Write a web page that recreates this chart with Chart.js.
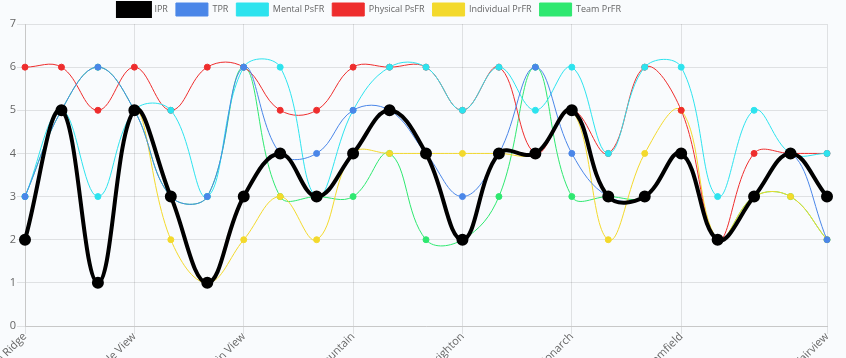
<!DOCTYPE html>
<html>
<head>
<meta charset="utf-8">
<script src="https://cdn.jsdelivr.net/npm/chart.js@4.4.1/dist/chart.umd.min.js"></script>
<style>
    body { margin: 0; background: #f9fbfd; overflow: hidden; }
    #wrap { position: absolute; left: 0; top: -5px; width: 846px; height: 401px; }
</style>
</head>
<body>
<div id="wrap"><canvas id="myChart"></canvas></div>
<script>
const schools = [
    'Aspen Ridge', 'Cedar Creek', 'Pine Hill', 'Eagle View', 'Oak Grove', 'Lakeside',
    'Mountain View', 'Riverside', 'Maple Park', 'Red Mountain', 'Westwood', 'Sunset Hills',
    'Brighton', 'Valley Forge', 'Kingsley', 'Monarch', 'Harbor Point', 'Willow Bend',
    'Bloomfield', 'Summit', 'Northgate', 'Granite Falls', 'Fairview'
];
// only these labels are visible on the x axis
const shownTicks = [0, 3, 6, 9, 12, 15, 18, 22];

const ipr        = [2, 5, 1, 5, 3, 1, 3, 4, 3, 4, 5, 4, 2, 4, 4, 5, 3, 3, 4, 2, 3, 4, 3];
const tpr        = [3, 5, 6, 5, 3, 3, 6, 4, 4, 5, 5, 4, 3, 4, 6, 4, 3, 3, 4, 2, 3, 4, 2];
const mentalPsfr = [3, 5, 3, 5, 5, 3, 6, 6, 3, 5, 6, 6, 5, 6, 5, 6, 4, 6, 6, 3, 5, 4, 4];
const physPsfr   = [6, 6, 5, 6, 5, 6, 6, 5, 5, 6, 6, 6, 5, 6, 4, 5, 4, 6, 5, 2, 4, 4, 4];
const indivPrfr  = [2, 5, 1, 5, 2, 1, 2, 3, 2, 4, 4, 4, 4, 4, 4, 5, 2, 4, 5, 2, 3, 3, 2];
const teamPrfr   = [3, 5, 6, 5, 3, 3, 6, 3, 3, 3, 4, 2, 2, 3, 6, 3, 3, 3, 4, 2, 3, 3, 2];

Chart.defaults.font.family = "'Open Sans', sans-serif";
Chart.defaults.color = '#666';

function makeSet(label, data, color, width, radius) {
    return {
        label: label,
        data: data,
        borderColor: color,
        backgroundColor: color,
        pointBackgroundColor: color,
        pointBorderColor: color,
        borderWidth: width,
        pointRadius: radius,
        tension: 0.4
    };
}

// moves the legend sideways, it is not centred over the canvas
const legendShift = {
    id: 'legendShift',
    afterLayout(chart) {
        chart.legend.left -= 44;
        chart.legend.right -= 44;
    }
};

const ctx = document.getElementById('myChart');

new Chart(ctx, {
    type: 'line',
    data: {
        labels: schools,
        datasets: [
            makeSet('IPR', ipr, '#000000', 4, 4),
            makeSet('TPR', tpr, '#4a86e8', 1, 3),
            makeSet('Mental PsFR', mentalPsfr, '#2de3ee', 1, 3),
            makeSet('Physical PsFR', physPsfr, '#ee2d2d', 1, 3),
            makeSet('Individual PrFR', indivPrfr, '#f3d92c', 1, 3),
            makeSet('Team PrFR', teamPrfr, '#2ee870', 1, 3)
        ]
    },
    options: {
        responsive: true,
        maintainAspectRatio: false,
        animation: false,
        layout: { padding: { left: 0, right: 19, top: 0, bottom: 0 } },
        plugins: {
            legend: {
                maxHeight: 29,
                labels: {
                    boxWidth: 32,
                    boxHeight: 13,
                    padding: 8,
                    font: { size: 9 }
                }
            },
            tooltip: { enabled: false }
        },
        scales: {
            x: {
                afterFit: scale => {
                    scale.height = 70;
                    scale.paddingLeft = 0;
                    scale.paddingRight = 0;
                },
                border: { color: '#c8c8c8' },
                grid: {
                    color: c => shownTicks.includes(c.index) ? 'rgba(0,0,0,0.1)' : 'transparent'
                },
                ticks: {
                    autoSkip: false,
                    minRotation: 45,
                    maxRotation: 45,
                    padding: -4,
                    font: { size: 11 },
                    callback: function(value, index) {
                        return shownTicks.includes(index) ? this.getLabelForValue(value) : '';
                    }
                }
            },
            y: {
                min: 0,
                max: 7,
                afterFit: scale => { scale.width = 25; },
                border: { color: '#c8c8c8' },
                ticks: {
                    stepSize: 1,
                    padding: 1,
                    font: { size: 11 }
                }
            }
        }
    },
    plugins: [legendShift]
});
</script>
</body>
</html>
